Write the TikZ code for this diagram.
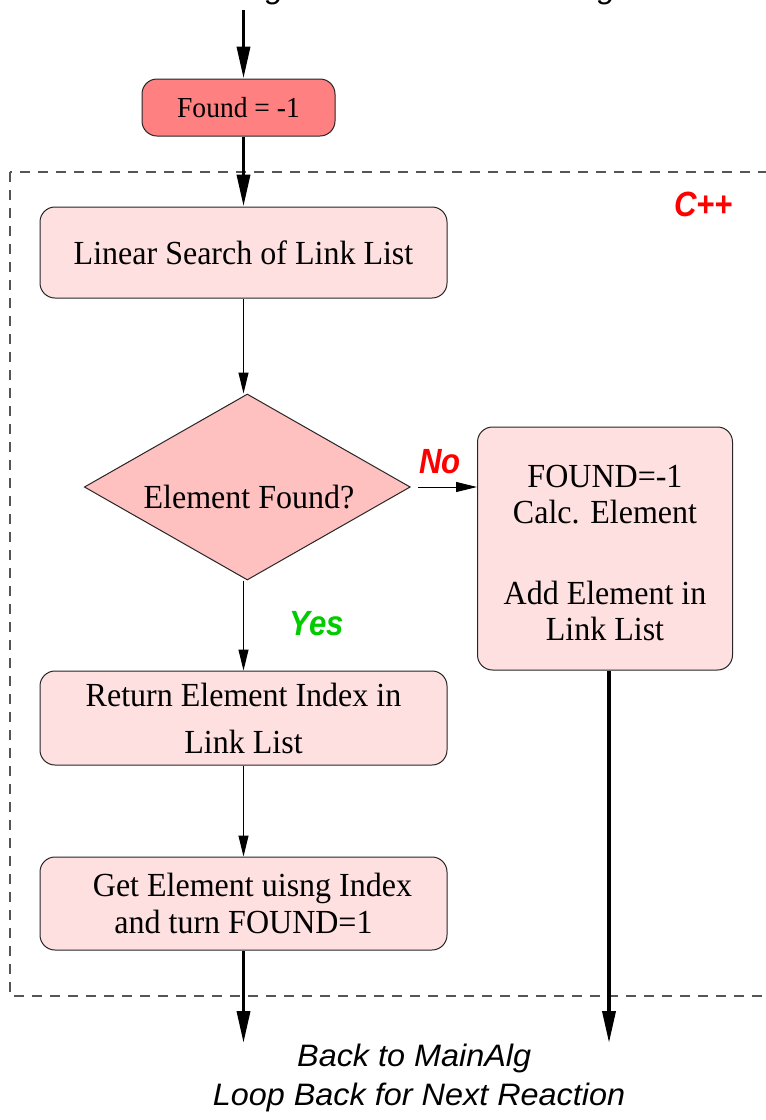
\documentclass[tikz,border=0pt]{standalone}
\usepackage{fontspec}
\setmainfont{Liberation Serif}[FakeStretch=0.95]
\newfontfamily\hvtag{Liberation Sans}[FakeStretch=0.89]
\newfontfamily\hvnote{Liberation Sans}[FakeStretch=1.045]
\usetikzlibrary{arrows.meta,shapes.geometric}

\definecolor{boxpink}{HTML}{FFE0E0}
\definecolor{initred}{HTML}{FF8080}
\definecolor{decpink}{HTML}{FFC0C0}
\definecolor{labred}{HTML}{FF0000}
\definecolor{labgreen}{HTML}{00CC00}
\definecolor{framegray}{HTML}{555555}

\tikzset{
  procbox/.style={draw=black!85, line width=1pt, fill=boxpink,
    rounded corners=15pt, inner sep=0pt, align=center},
  initbox/.style={draw=black!85, line width=1pt, fill=initred,
    rounded corners=15pt, inner sep=0pt, font=\fontsize{29}{32}\selectfont},
  decision/.style={diamond, draw=black!85, line width=1pt, fill=decpink,
    inner sep=0pt, aspect=1.76},
  flowthick/.style={line width=3.6pt, -{Triangle[length=32pt,width=13pt]}},
  flowthin/.style={line width=1pt, -{Triangle[length=21pt,width=10pt]}},
  tag/.style={font=\hvtag\bfseries\itshape\fontsize{35}{38}\selectfont, anchor=base},
  exitnote/.style={font=\hvnote\itshape\fontsize{31}{36}\selectfont, anchor=base},
}

\begin{document}
\begin{tikzpicture}[x=1pt, y=-1pt]
  \useasboundingbox (0,0) rectangle (766,1120);
  \clip (0,0) rectangle (766,1120);

  % caption line above the picture, only its descenders show
  \node[exitnote] (capA) at (275,-2) {g};
  \node[exitnote] (capB) at (607,-2) {g};

  % dashed frame of the C++ part
  \draw[framegray, line width=1.2pt, dash pattern=on 10pt off 8pt]
    (10,172) rectangle (780,996);
  \node[tag, text=labred] (lang) at (703.5,216) {C++};

  % nodes
  \node[initbox, minimum width=193pt, minimum height=57pt] (found) at (238.5,107.5) {Found = -1};
  \node[procbox, font=\fontsize{33.7}{38}\selectfont,
    minimum width=407pt, minimum height=91pt] (lin) at (243.5,252.5)
    {Linear Search of Link List};
  \node[decision, minimum width=326pt, minimum height=186pt] (dec) at (247.3,487) {};
  \node[font=\fontsize{33.7}{38}\selectfont, anchor=base] (dectext) at (249,508) {Element Found?};
  \node[procbox, font=\fontsize{33.7}{36}\selectfont,
    minimum width=255pt, minimum height=243pt] (calc) at (605,548.5)
    {\rule{0pt}{31pt}FOUND=-1\\Calc. Element\\[45pt]Add Element in\\Link List};
  \node[procbox, font=\fontsize{33.7}{47}\selectfont,
    minimum width=407pt, minimum height=94pt] (ret) at (243.5,718)
    {Return Element Index in\\Link List};
  \node[procbox, font=\fontsize{33.7}{37}\selectfont,
    minimum width=407pt, minimum height=93pt] (get) at (243.5,903.5)
    {\hspace*{18pt}Get Element uisng Index\\and turn FOUND=1};

  % free ends of the flow
  \coordinate (in) at (243.5,10);
  \coordinate (outA) at (243.5,1043);
  \coordinate (outB) at (609,1043);

  % connectors
  \draw[flowthick] (in) -- (in |- found.north);
  \draw[flowthick] (found.south -| lin.north) -- (lin.north);
  \draw[flowthin] (lin.south) -- (lin.south |- dec.north);
  \draw[flowthin, shorten <=7pt] (dec.east) -- (dec.east -| calc.west);
  \draw[flowthin] (dec.south -| ret.north) -- (ret.north);
  \draw[flowthin] (ret.south) -- (get.north);
  \draw[flowthick] (get.south) -- (outA);
  \draw[flowthick] (calc.south -| outB) -- (outB);

  % branch labels
  \node[tag, text=labred] (nolab) at (440,473) {No};
  \node[tag, text=labgreen] (yeslab) at (317,635) {Yes};

  % exit notes
  \node[exitnote] (back) at (414.2,1066.7) {Back to MainAlg};
  \node[exitnote] (loop) at (419,1105.7) {Loop Back for Next Reaction};
\end{tikzpicture}
\end{document}
